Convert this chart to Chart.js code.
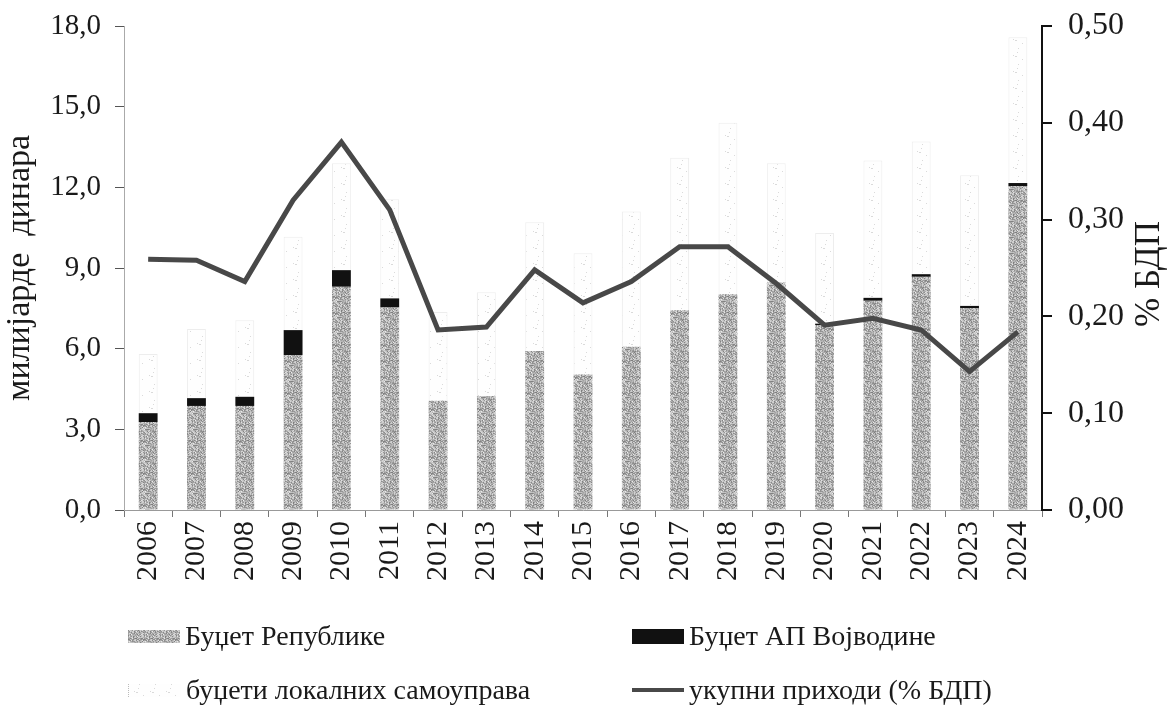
<!DOCTYPE html>
<html>
<head>
<meta charset="utf-8">
<script src="https://cdn.jsdelivr.net/npm/chart.js@4"></script>
<style>
  body { margin: 0; background: #fff; }
  #wrap { position: relative; width: 1174px; height: 706px; }
  #legend { position: absolute; left: 0; top: 0; width: 1174px; height: 706px; pointer-events: none;
    font-family: "Liberation Serif", "Times New Roman", serif; font-size: 28px; color: #1a1a1a; }
  .item { position: absolute; display: flex; align-items: center; white-space: nowrap; transform: translateY(-50%); }
  .sw { width: 52px; margin-right: 5px; }
</style>
</head>
<body>
<div id="wrap">
  <canvas id="chart" width="1174" height="706"></canvas>
  <div id="legend"></div>
</div>
<script>
const years = ['2006', '2007', '2008', '2009', '2010', '2011', '2012', '2013', '2014', '2015',
  '2016', '2017', '2018', '2019', '2020', '2021', '2022', '2023', '2024'];

// милијарде динара
const republika = [3.27, 3.87, 3.87, 5.76, 8.30, 7.53, 4.06, 4.24, 5.91, 5.04,
  6.07, 7.43, 8.02, 8.46, 6.88, 7.78, 8.67, 7.50, 12.04];
const vojvodina = [0.33, 0.29, 0.34, 0.93, 0.62, 0.34, 0, 0, 0, 0,
  0, 0, 0, 0, 0.05, 0.11, 0.10, 0.09, 0.12];
const lokalne = [2.20, 2.57, 2.85, 3.47, 3.98, 3.69, 3.30, 3.86, 4.79, 4.51,
  5.03, 5.67, 6.38, 4.44, 3.37, 5.11, 4.93, 4.86, 5.42];

// % БДП
const prihodi = [0.259, 0.258, 0.236, 0.320, 0.380, 0.310, 0.186, 0.189, 0.248, 0.214,
  0.236, 0.272, 0.272, 0.234, 0.191, 0.198, 0.186, 0.143, 0.184];

const serif = '"Liberation Serif", "Times New Roman", serif';
const ink = '#1a1a1a';

// grainy fills for the bars
function hash(i) {
  const s = Math.sin(i * 12.9898 + 78.233) * 43758.5453;
  return s - Math.floor(s);
}
function grain(size, shade) {
  const c = document.createElement('canvas');
  c.width = c.height = size;
  const g = c.getContext('2d');
  const img = g.createImageData(size, size);
  for (let i = 0; i < size * size; i++) {
    const v = shade(hash(i), hash(i + 977));
    img.data[i * 4] = img.data[i * 4 + 1] = img.data[i * 4 + 2] = v;
    img.data[i * 4 + 3] = 255;
  }
  g.putImageData(img, 0, 0);
  return c;
}
const grayTile = grain(16, (a, b) => Math.round(125 + a * 90 + (b > 0.8 ? 25 : 0)));
const paleTile = grain(16, (a) => a < 0.035 ? 218 : 254);

const ctx = document.getElementById('chart').getContext('2d');
const grayFill = ctx.createPattern(grayTile, 'repeat');
const paleFill = ctx.createPattern(paleTile, 'repeat');

const comma = (v, d) => v.toFixed(d).replace('.', ',');

const rightTitle = {
  id: 'rightTitle',
  afterDraw(chart) {
    const s = chart.scales.y1;
    const c = chart.ctx;
    c.save();
    c.translate(s.right - 24, (chart.chartArea.top + chart.chartArea.bottom) / 2 + 6);
    c.rotate(-Math.PI / 2);
    c.font = '35px ' + serif;
    c.fillStyle = ink;
    c.textAlign = 'center';
    c.textBaseline = 'middle';
    c.fillText('% БДП', 0, 0);
    c.restore();
  }
};

const chart = new Chart(ctx, {
  type: 'bar',
  data: {
    labels: years,
    datasets: [
      { label: 'укупни приходи (% БДП)', type: 'line', data: prihodi, yAxisID: 'y1', order: 0,
        borderColor: '#484848', borderWidth: 5, pointRadius: 0, tension: 0, fill: false },
      { label: 'Буџет Републике', data: republika, backgroundColor: grayFill, stack: 's', order: 1 },
      { label: 'Буџет АП Војводине', data: vojvodina, backgroundColor: '#111', stack: 's', order: 1 },
      { label: 'буџети локалних самоуправа', data: lokalne, backgroundColor: paleFill,
        borderColor: 'rgba(220,220,220,0.5)', borderWidth: 1, borderSkipped: 'bottom', stack: 's', order: 1 }
    ]
  },
  options: {
    responsive: false,
    animation: false,
    layout: { padding: { top: 26, left: 0, right: 0, bottom: 0 } },
    datasets: { bar: { barPercentage: 0.78, categoryPercentage: 0.5 } },
    plugins: { legend: { display: false }, tooltip: { enabled: false } },
    scales: {
      x: {
        stacked: true,
        afterFit: (s) => { s.height = 196; },
        border: { color: '#999', dash: [2, 2] },
        grid: { drawOnChartArea: false, color: '#777', tickLength: 7, offset: true },
        ticks: { minRotation: 90, maxRotation: 90, padding: 4, color: ink, font: { family: serif, size: 30 } }
      },
      y: {
        stacked: true, min: 0, max: 18,
        afterFit: (s) => { s.width = 124; s.paddingTop = 0; s.paddingBottom = 0; },
        border: { color: '#aaa', dash: [1, 2] },
        grid: { drawOnChartArea: false, color: '#555', tickLength: 9 },
        ticks: { stepSize: 3, padding: 14, color: ink, font: { family: serif, size: 29, lineHeight: 1 },
          callback: (v) => comma(v, 1) },
        title: { display: true, text: 'милијарде  динара', color: ink, padding: { top: 0, bottom: 0 },
          font: { family: serif, size: 34 } }
      },
      y1: {
        position: 'right', min: 0, max: 0.5,
        afterFit: (s) => { s.width = 132; s.paddingTop = 0; s.paddingBottom = 0; },
        border: { color: '#111', width: 2 },
        grid: { drawOnChartArea: false, color: '#111', lineWidth: 2, tickLength: 10 },
        ticks: { stepSize: 0.1, padding: 16, color: ink, font: { family: serif, size: 32, lineHeight: 1 },
          callback: (v) => comma(v, 2) }
      }
    }
  },
  plugins: [rightTitle]
});

// legend in two columns under the axis
const legend = document.getElementById('legend');
const spots = [
  { ds: 1, x: 128, y: 636 },
  { ds: 2, x: 632, y: 636 },
  { ds: 3, x: 128, y: 690 },
  { ds: 0, x: 632, y: 690 }
];
spots.forEach(p => {
  const ds = chart.data.datasets[p.ds];
  const item = document.createElement('div');
  item.className = 'item';
  item.style.left = p.x + 'px';
  item.style.top = p.y + 'px';
  const sw = document.createElement('div');
  sw.className = 'sw';
  if (ds.type === 'line') {
    sw.style.height = '4px';
    sw.style.background = ds.borderColor;
  } else if (ds.backgroundColor === grayFill) {
    sw.style.height = '13px';
    sw.style.background = 'url(' + grayTile.toDataURL() + ')';
  } else if (ds.backgroundColor === paleFill) {
    sw.style.height = '13px';
    sw.style.background = 'url(' + paleTile.toDataURL() + ')';
    sw.style.borderLeft = '1px dotted #bbb';
  } else {
    sw.style.height = '15px';
    sw.style.background = ds.backgroundColor;
  }
  const txt = document.createElement('span');
  txt.textContent = ds.label;
  item.appendChild(sw);
  item.appendChild(txt);
  legend.appendChild(item);
});
</script>
</body>
</html>
